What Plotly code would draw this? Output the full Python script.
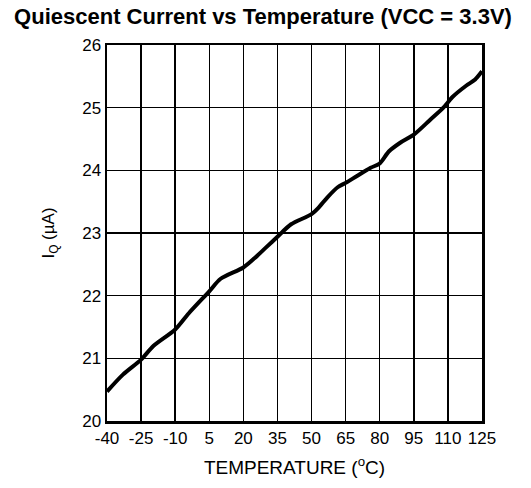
import plotly.graph_objects as go

# Data
temperature_c = [-40, -33, -25, -19.5, -10, -4, 5, 10, 20, 25, 30, 35, 41, 50, 53, 57, 61.5, 65, 70, 76, 80, 84, 89, 95, 102, 108, 112, 118, 122, 125]
iq_ua = [20.47, 20.74, 20.98, 21.2, 21.46, 21.72, 22.07, 22.27, 22.45, 22.6, 22.77, 22.94, 23.14, 23.3, 23.4, 23.57, 23.73, 23.8, 23.91, 24.04, 24.11, 24.3, 24.44, 24.57, 24.8, 25.0, 25.17, 25.35, 25.45, 25.58]

x_ticks = [-40, -25, -10, 5, 20, 35, 50, 65, 80, 95, 110, 125]
y_ticks = [20, 21, 22, 23, 24, 25, 26]

FONT = "Liberation Sans, Arial, sans-serif"

fig = go.Figure()
fig.add_trace(go.Scatter(
    x=temperature_c, y=iq_ua, mode="lines",
    line=dict(color="black", width=4, shape="spline", smoothing=0.8),
    hoverinfo="skip", showlegend=False,
))

fig.update_layout(
    width=531, height=488,
    margin=dict(l=107, r=49, t=45, b=67),
    paper_bgcolor="white", plot_bgcolor="white",
    hovermode=False,
    font=dict(family=FONT, size=17, color="black"),
    title=dict(
        text="<b>Quiescent Current vs Temperature (VCC = 3.3V)</b>",
        x=263 / 531, xanchor="center", xref="container",
        y=1 - 16 / 488, yanchor="middle", yref="container",
        font=dict(family=FONT, size=22, color="black"),
    ),
)

fig.update_xaxes(
    range=[-40, 125], tickvals=x_ticks, ticktext=[str(v) for v in x_ticks],
    showgrid=True, gridcolor="black", gridwidth=1.5,
    showline=True, linecolor="black", linewidth=2.5, mirror=True,
    zeroline=False, ticks="",
    tickfont=dict(size=17),
    title=dict(text="TEMPERATURE (<sup>o</sup>C)", font=dict(size=19), standoff=14),
)
fig.update_yaxes(
    range=[20, 26], tickvals=y_ticks, ticktext=[str(v) for v in y_ticks],
    showgrid=True, gridcolor="black", gridwidth=1.5,
    showline=True, linecolor="black", linewidth=2.5, mirror=True,
    zeroline=False, ticks="",
    tickfont=dict(size=17),
    title=dict(text="I<sub>Q</sub> (µA)", font=dict(size=17), standoff=23),
)

# remove the browser's default 8px body margin so the figure fills the window
fig.write_html(
    "out.html",
    config={"displayModeBar": False, "staticPlot": True},
    post_script="document.body.style.margin='0';",
)
